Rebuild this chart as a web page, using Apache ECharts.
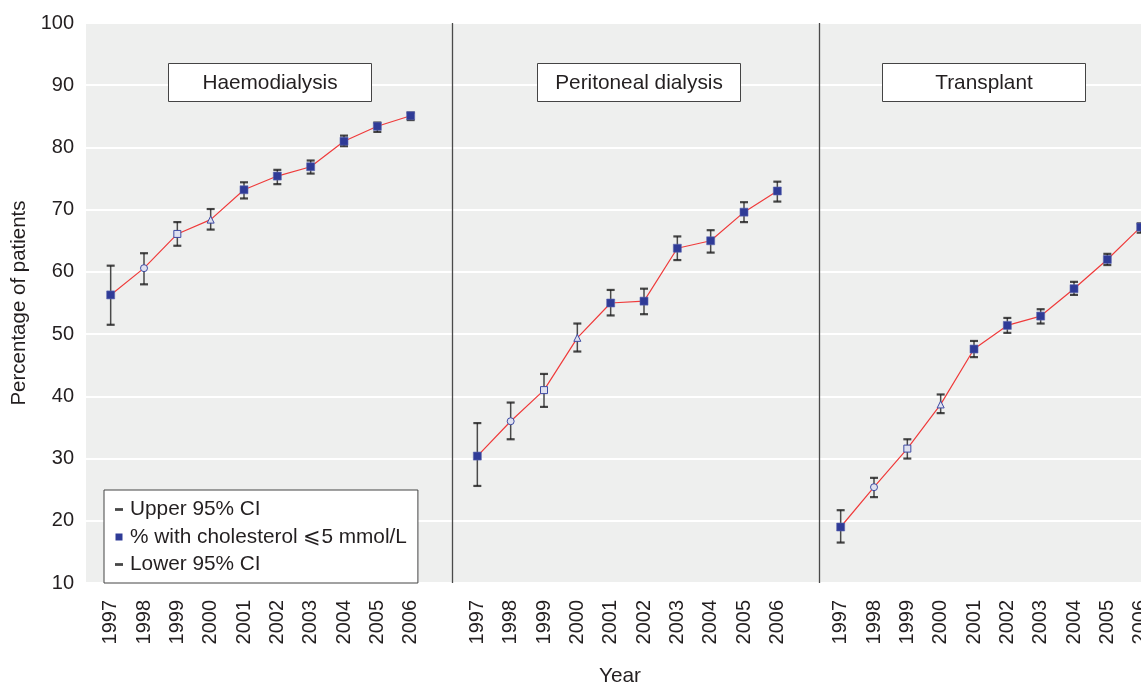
<!DOCTYPE html>
<html>
<head>
<meta charset="utf-8">
<script src="https://cdn.jsdelivr.net/npm/echarts@6/dist/echarts.min.js"></script>
<style>
  html, body { margin: 0; padding: 0; background: #fff; }
  #chart { width: 1141px; height: 686px; }
</style>
</head>
<body>
<div id="chart"></div>
<script>
// Years shown in each panel
const years = ['1997', '1998', '1999', '2000', '2001', '2002', '2003', '2004', '2005', '2006'];
const panelNames = ['Haemodialysis', 'Peritoneal dialysis', 'Transplant'];
// x position of each panel's first year on the shared value axis
const panelOffsets = [0, 11, 21.9];
// panel boundaries on the x axis
const panelDividers = [10.26, 21.26];

// % of patients with cholesterol <= 5 mmol/L, and 95% CI bounds
const haemoPct   = [56.3, 60.6, 66.1, 68.4, 73.2, 75.4, 76.9, 81.0, 83.4, 85.1];
const haemoUpper = [61.0, 63.0, 68.0, 70.1, 74.4, 76.4, 77.9, 81.9, 84.0, 85.6];
const haemoLower = [51.5, 58.0, 64.2, 66.8, 71.8, 74.1, 75.8, 80.2, 82.5, 84.4];

const pdPct   = [30.4, 36.0, 41.0, 49.4, 55.0, 55.3, 63.8, 65.0, 69.6, 73.0];
const pdUpper = [35.7, 39.0, 43.6, 51.7, 57.1, 57.3, 65.7, 66.7, 71.2, 74.5];
const pdLower = [25.6, 33.1, 38.3, 47.2, 53.0, 53.2, 61.9, 63.1, 68.0, 71.3];

const txPct   = [19.0, 25.4, 31.6, 38.7, 47.6, 51.4, 52.9, 57.3, 62.0, 67.2];
const txUpper = [21.7, 26.9, 33.1, 40.3, 48.9, 52.6, 54.0, 58.4, 62.9, 67.8];
const txLower = [16.5, 23.8, 30.0, 37.3, 46.3, 50.2, 51.7, 56.3, 61.1, 66.3];

const yTicks = { min: 10, max: 100, interval: 10 };

const panelData = [
  { pct: haemoPct, upper: haemoUpper, lower: haemoLower },
  { pct: pdPct, upper: pdUpper, lower: pdLower },
  { pct: txPct, upper: txUpper, lower: txLower }
];

const NAME_UPPER = 'Upper 95% CI';
const NAME_PCT = '% with cholesterol \u2A7D5 mmol/L';
const NAME_LOWER = 'Lower 95% CI';

const FONT = '"Liberation Sans", Arial, Helvetica, sans-serif';
const TEXT = '#231f20';
const BLUE = '#2f3b97';

// marker style per year index: filled squares except three hollow shapes
function markerFor(i) {
  const hollow = { color: '#dfe1ef', borderColor: '#3d4aa3', borderWidth: 1 };
  if (i === 1) return { symbol: 'circle', symbolSize: 7, itemStyle: hollow };
  if (i === 2) return { symbol: 'rect', symbolSize: 7, itemStyle: hollow };
  if (i === 3) return { symbol: 'triangle', symbolSize: 7, itemStyle: hollow };
  return { symbol: 'rect', symbolSize: 8, itemStyle: { color: BLUE, borderColor: '#5c66b0', borderWidth: 0.6 } };
}

const tickValues = [];
panelOffsets.forEach(off => years.forEach((_, i) => tickValues.push(off + i)));

function yearAt(v) {
  for (const off of panelOffsets) {
    const i = Math.round(v - off);
    if (i >= 0 && i < years.length && Math.abs(v - off - i) < 1e-6) return years[i];
  }
  return '';
}

const series = [];
panelData.forEach((pd, p) => {
  const xs = years.map((_, i) => panelOffsets[p] + i);
  // vertical whiskers of the confidence intervals
  series.push({
    type: 'custom',
    silent: true,
    z: 1,
    data: xs.map((x, i) => [x, pd.lower[i], pd.upper[i]]),
    encode: { x: 0, y: [1, 2] },
    renderItem: function (params, api) {
      const x = api.value(0);
      const lo = api.coord([x, api.value(1)]);
      const hi = api.coord([x, api.value(2)]);
      return {
        type: 'line',
        shape: { x1: lo[0], y1: lo[1], x2: hi[0], y2: hi[1] },
        style: { stroke: '#4a4a4a', lineWidth: 1.5 }
      };
    }
  });
  // caps at the upper and lower bounds
  series.push({
    type: 'scatter', name: NAME_UPPER, z: 2, silent: true,
    symbol: 'rect', symbolSize: [8, 2.2],
    itemStyle: { color: '#1a1a1a' },
    data: xs.map((x, i) => [x, pd.upper[i]])
  });
  series.push({
    type: 'scatter', name: NAME_LOWER, z: 2, silent: true,
    symbol: 'rect', symbolSize: [8, 2.2],
    itemStyle: { color: '#1a1a1a' },
    data: xs.map((x, i) => [x, pd.lower[i]])
  });
  // the percentage line
  const line = {
    type: 'line', name: NAME_PCT, z: 3, silent: true,
    showAllSymbol: true,
    symbol: 'rect',
    itemStyle: { color: BLUE },
    lineStyle: { color: '#ef3b3b', width: 1.2 },
    emphasis: { disabled: true },
    data: xs.map((x, i) => Object.assign({ value: [x, pd.pct[i]] }, markerFor(i)))
  };
  if (p === 0) {
    line.markLine = {
      silent: true,
      symbol: 'none',
      label: { show: false },
      lineStyle: { color: '#4a4a4a', width: 1.3, type: 'solid' },
      emphasis: { disabled: true },
      data: panelDividers.map(v => ({ xAxis: v }))
    };
  }
  series.push(line);
});

const dashIcon = 'path://M0,0M12,12M2,4.6L10,4.6L10,7.4L2,7.4Z';
const squareIcon = 'path://M0,0M12,12M2.5,2.5L9.5,2.5L9.5,9.5L2.5,9.5Z';

const boxLeft = [168, 537, 882];

const chart = echarts.init(document.getElementById('chart'), null, { renderer: 'canvas' });
chart.setOption({
  animation: false,
  backgroundColor: '#ffffff',
  textStyle: { fontFamily: FONT },
  grid: {
    left: 86, top: 23, width: 1100, height: 560,
    containLabel: false,
    outerBoundsMode: 'none',
    show: true, backgroundColor: '#eeefee', borderWidth: 0
  },
  xAxis: {
    type: 'value',
    min: -0.74, max: 32.26,
    axisLine: { show: false },
    axisTick: { show: false },
    splitLine: { show: false },
    axisLabel: {
      customValues: tickValues,
      rotate: 90,
      margin: 17,
      fontSize: 20,
      color: TEXT,
      fontFamily: FONT,
      hideOverlap: false,
      formatter: v => yearAt(v)
    }
  },
  yAxis: {
    type: 'value',
    min: yTicks.min, max: yTicks.max, interval: yTicks.interval,
    name: 'Percentage of patients',
    nameLocation: 'middle',
    nameGap: 51,
    nameTextStyle: { fontSize: 20.5, color: TEXT, fontFamily: FONT },
    axisLine: { show: false },
    axisTick: { show: false },
    axisLabel: { fontSize: 20, color: TEXT, margin: 12, fontFamily: FONT },
    splitLine: { show: true, lineStyle: { color: '#ffffff', width: 2 } }
  },
  legend: {
    orient: 'vertical',
    left: 104, top: 490,
    padding: [9, 11, 8, 9],
    itemGap: 6.5,
    itemWidth: 12, itemHeight: 12,
    selectedMode: false,
    backgroundColor: '#ffffff',
    borderColor: '#444444',
    borderWidth: 1,
    textStyle: { fontSize: 20.8, color: TEXT, fontFamily: FONT, lineHeight: 20 },
    data: [
      { name: NAME_UPPER, icon: dashIcon, itemStyle: { color: '#1a1a1a' } },
      { name: NAME_PCT, icon: squareIcon, itemStyle: { color: BLUE, borderWidth: 0 } },
      { name: NAME_LOWER, icon: dashIcon, itemStyle: { color: '#1a1a1a' } }
    ]
  },
  graphic: panelNames.map((t, i) => ({
    type: 'group',
    left: boxLeft[i], top: 63,
    z: 100,
    children: [
      { type: 'rect', z: 100, shape: { x: 0, y: 0, width: 203, height: 38 },
        style: { fill: '#ffffff', stroke: '#444444', lineWidth: 1 } },
      { type: 'text', z: 101, x: 101.5, y: 19.5,
        style: { text: t, fill: TEXT, font: '20.8px ' + FONT, align: 'center', verticalAlign: 'middle' } }
    ]
  })).concat([{
    type: 'text', x: 620, y: 676, z: 100,
    style: { text: 'Year', fill: TEXT, font: '20.8px ' + FONT, align: 'center', verticalAlign: 'middle' }
  }]),
  series: series
});
</script>
</body>
</html>
